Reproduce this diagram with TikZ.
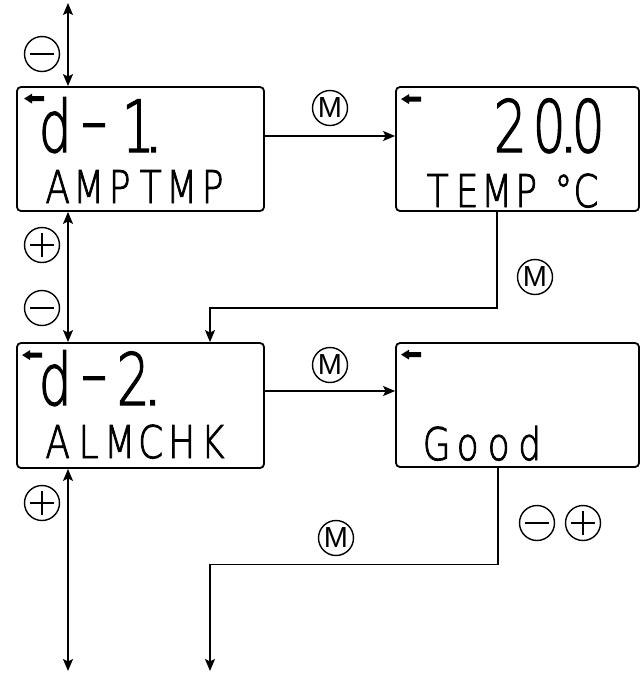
\documentclass[tikz,border=0pt]{standalone}
\usepackage{fontspec}
\setsansfont{Liberation Sans}
\newfontfamily\lcdfont[FakeBold=2]{DejaVuSans-ExtraLight.ttf}
\newfontfamily\keyfont{Liberation Sans}
\usetikzlibrary{arrows.meta}

\newcommand\lcdbig{\lcdfont\fontsize{72}{72}\selectfont}
\newcommand\lcdsmall{\lcdfont\fontsize{45}{45}\selectfont}
\newcommand\keysize{\keyfont\fontsize{29}{29}\selectfont}
\newcommand\lb[2][39]{\makebox[#1pt][c]{\scalebox{0.72}[1]{#2}}}
\newcommand\ls[2][31]{\makebox[#1pt][c]{\scalebox{0.8}[1]{#2}}}
\newcommand\lcddot{\makebox[0pt][c]{.}}
\newcommand\lcdbar{\raisebox{7pt}{\scalebox{1.5}[1]{-}}}

\begin{document}
\begin{tikzpicture}[x=1pt,y=-1pt,
  lcdbox/.style={draw, line width=1.8pt, rounded corners=4pt, inner sep=0pt},
  conn/.style={line width=1.5pt, -{Stealth[length=12pt,width=10pt,inset=2.5pt]}},
  dconn/.style={line width=1.5pt, {Stealth[length=12pt,width=10pt,inset=2.5pt]}-{Stealth[length=12pt,width=10pt,inset=2.5pt]}},
  btn/.style={circle, draw, line width=1.4pt, minimum size=35pt, inner sep=0pt, font=\keysize},
  btnminus/.style={btn, path picture={\draw[line width=1.4pt] ([xshift=-12pt]path picture bounding box.center) -- ([xshift=12pt]path picture bounding box.center);}},
  btnplus/.style={btn, path picture={\draw[line width=1.4pt] ([xshift=-12pt]path picture bounding box.center) -- ([xshift=12pt]path picture bounding box.center) ([yshift=-12pt]path picture bounding box.center) -- ([yshift=12pt]path picture bounding box.center);}},
  lcdtxt/.style={inner sep=0pt, anchor=base west},
  backarrow/.pic={\fill (0,0) -- (8,-5) -- (8,-2.5) -- (20,-2.5) -- (20,2.5) -- (8,2.5) -- (8,5) -- cycle;}
]
\useasboundingbox (0,0) rectangle (641,673);

% display boxes
\node[lcdbox, minimum width=247pt, minimum height=124pt] (b1) at (140.5,149) {};
\node[lcdbox, minimum width=247pt, minimum height=125pt] (b2) at (140.5,405.5) {};
\node[lcdbox, minimum width=243pt, minimum height=124pt] (b3) at (517.5,149) {};
\node[lcdbox, minimum width=243pt, minimum height=124pt] (b4) at (517.5,405) {};

% back indicators
\pic at ([shift={(8pt,-12.5pt)}]b1.north west) {backarrow};
\pic at ([shift={(6pt,-13pt)}]b2.north west) {backarrow};
\pic at ([shift={(6pt,-13pt)}]b3.north west) {backarrow};
\pic at ([shift={(6pt,-12.5pt)}]b4.north west) {backarrow};

% LCD texts
\node[lcdtxt, font=\lcdbig] (t1a) at (35.5,152) {\lb{d}\lb{\lcdbar}\kern5pt\lb{1}\kern-4pt\lcddot};
\node[lcdtxt, font=\lcdsmall] (t1b) at (42,203) {\ls{A}\ls{M}\ls{P}\ls{T}\ls{M}\ls{P}};
\node[lcdtxt, font=\lcdbig] (t3a) at (490.5,152) {\lb{2}\lb{0}\lcddot\lb{0}};
\node[lcdtxt, font=\lcdsmall] (t3b) at (422.75,207) {\ls[29.5]{T}\ls[29.5]{E}\ls[29.5]{M}\ls[29.5]{P}\makebox[12pt]{\ }\ls[21]{°}\ls[24]{C}};
\node[lcdtxt, font=\lcdbig] (t2a) at (35.5,405) {\lb{d}\lb{\lcdbar}\lb{2}\lcddot};
\node[lcdtxt, font=\lcdsmall] (t2b) at (42,458) {\ls{A}\ls{L}\ls{M}\ls{C}\ls{H}\ls{K}};
\node[lcdtxt, font=\lcdsmall] (t4b) at (421,460) {\ls{G}\ls{o}\ls{o}\ls{d}};

% free ends
\coordinate (e0) at (68,3);
\coordinate (e1) at (68,671);
\coordinate (e2) at (210,671);

% connectors
\draw[conn] ([yshift=13pt]b1.east) coordinate (c1) -- (c1 -| b3.west);
\draw[conn] ([yshift=14.5pt]b2.east) coordinate (c2) -- (c2 -| b4.west);
\draw[conn] ([xshift=-20.5pt]b3.south) -- ++(0,96) -| ([xshift=69.5pt]b2.north);
\draw[conn] ([xshift=-19.5pt]b4.south) -- ++(0,96.5) -| (e2);
\draw[dconn] (e0) -- ([xshift=-72.5pt]b1.north);
\draw[dconn] ([xshift=-72.5pt]b1.south) -- ([xshift=-72.5pt]b2.north);
\draw[dconn] ([xshift=-72.5pt]b2.south) -- (e1);

% key symbols
\node[btnminus] (k1) at (42,54) {};
\node[btnplus] (k2) at (42,245) {};
\node[btnminus] (k3) at (42,308) {};
\node[btnplus] (k4) at (42,503) {};
\node[btn] (m1) at (330,108) {M};
\node[btn] (m2) at (330,365) {M};
\node[btn] (m3) at (535,277) {M};
\node[btn] (m4) at (336,538) {M};
\node[btnminus] (k5) at (537,523) {};
\node[btnplus] (k6) at (583,523) {};
\end{tikzpicture}
\end{document}
